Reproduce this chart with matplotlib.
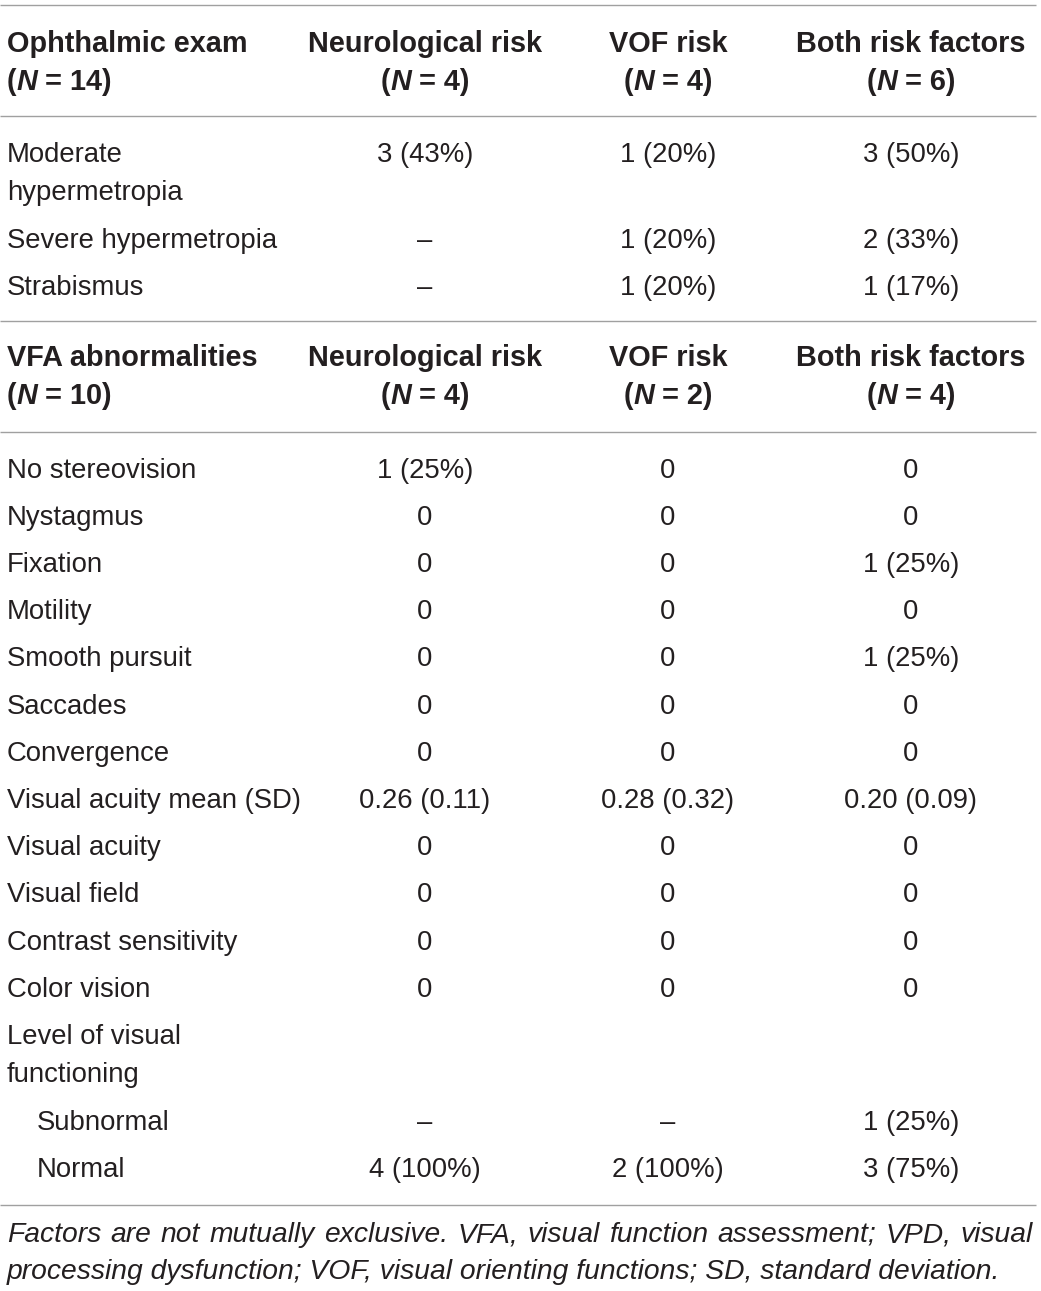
import matplotlib
matplotlib.use("Agg")
import matplotlib.pyplot as plt

# data
group_names = ["Neurological risk", "VOF risk", "Both risk factors"]

exam_title = "Ophthalmic exam"
exam_n = 14
exam_group_n = [4, 4, 6]
exam_rows = ["Moderate\nhypermetropia", "Severe hypermetropia", "Strabismus"]
exam_neuro = ["3 (43%)", "\u2013", "\u2013"]
exam_vof = ["1 (20%)", "1 (20%)", "1 (20%)"]
exam_both = ["3 (50%)", "2 (33%)", "1 (17%)"]

vfa_title = "VFA abnormalities"
vfa_n = 10
vfa_group_n = [4, 2, 4]
vfa_rows = ["No stereovision", "Nystagmus", "Fixation", "Motility", "Smooth pursuit",
            "Saccades", "Convergence", "Visual acuity mean (SD)", "Visual acuity",
            "Visual field", "Contrast sensitivity", "Color vision",
            "Level of visual\nfunctioning", "Subnormal", "Normal"]
vfa_indent = [False] * 13 + [True, True]
vfa_neuro = ["1 (25%)", "0", "0", "0", "0", "0", "0", "0.26 (0.11)", "0", "0", "0", "0",
             "", "\u2013", "4 (100%)"]
vfa_vof = ["0", "0", "0", "0", "0", "0", "0", "0.28 (0.32)", "0", "0", "0", "0",
           "", "\u2013", "2 (100%)"]
vfa_both = ["0", "0", "1 (25%)", "0", "1 (25%)", "0", "0", "0.20 (0.09)", "0", "0", "0", "0",
            "", "1 (25%)", "3 (75%)"]

footnote = ("Factors are not mutually exclusive. VFA, visual function assessment; VPD, visual "
            "processing dysfunction; VOF, visual orienting functions; SD, standard deviation.")

FONT = "Liberation Sans"
FS = 19.8      # body text
FSB = 20.8     # bold header text
FSN = 20.3     # footnote
TXT = "#231f20"
RULE = "#a0a0a0"
COL_X = [425, 668, 911]
LEFT = 7
ROW = 47.2
LINE = 38.5

fig = plt.figure(figsize=(10.41, 12.91), dpi=100)
ax = fig.add_axes([0, 0, 1, 1])
ax.set_xlim(0, 1041)
ax.set_ylim(1291, 0)
ax.axis("off")
fig.canvas.draw()
renderer = fig.canvas.get_renderer()


def draw_runs(x, y, parts, ha="left"):
    # parts: list of (text, weight, style)
    items = []
    total = 0
    for s, w, st in parts:
        t = ax.text(0, y, s, fontsize=FSB, family=FONT, weight=w, style=st,
                    color=TXT, va="baseline", ha="left")
        wd = t.get_window_extent(renderer).width
        items.append((t, wd))
        total += wd
    x0 = x - total / 2 if ha == "center" else x
    for t, wd in items:
        t.set_x(x0)
        x0 += wd


def hline(y):
    ax.plot([0, 1036], [y, y], color=RULE, lw=1.0, solid_capstyle="butt")


def header(y, title, n, group_n):
    draw_runs(LEFT, y, [(title, "bold", "normal")])
    draw_runs(LEFT, y + LINE, [("(", "bold", "normal"), ("N", "bold", "italic"),
                               (" = %d)" % n, "bold", "normal")])
    for cx, name, gn in zip(COL_X, group_names, group_n):
        draw_runs(cx, y, [(name, "bold", "normal")], ha="center")
        draw_runs(cx, y + LINE, [("(", "bold", "normal"), ("N", "bold", "italic"),
                                 (" = %d)" % gn, "bold", "normal")], ha="center")


def body(y, rows, cols, indent=None):
    for i, label in enumerate(rows):
        x = LEFT + (30 if indent and indent[i] else 0)
        for k, part in enumerate(label.split("\n")):
            ax.text(x, y + k * LINE, part, fontsize=FS, family=FONT, color=TXT,
                    va="baseline", ha="left")
        for cx, col in zip(COL_X, cols):
            ax.text(cx, y, col[i], fontsize=FS, family=FONT, color=TXT,
                    va="baseline", ha="center")
        y += ROW + (label.count("\n") * (LINE + 0.5))
    return y


hline(5)
header(52, exam_title, exam_n, exam_group_n)
hline(116)
body(162, exam_rows, [exam_neuro, exam_vof, exam_both])
hline(321)
header(366, vfa_title, vfa_n, vfa_group_n)
hline(432)
body(477.5, vfa_rows, [vfa_neuro, vfa_vof, vfa_both], vfa_indent)
hline(1205)

# justified footnote, first line spread across full width
words = footnote.split(" ")
line1 = words[:words.index("visual", words.index("VPD,")) + 1]
line2 = words[len(line1):]
texts = []
widths = []
for w in line1:
    t = ax.text(0, 1242, w, fontsize=FSN, family=FONT, style="italic", color=TXT,
                va="baseline", ha="left")
    texts.append(t)
    widths.append(t.get_window_extent(renderer).width)
gap = (1033 - LEFT - sum(widths)) / (len(line1) - 1)
x = LEFT
for t, wd in zip(texts, widths):
    t.set_x(x)
    x += wd + gap
ax.text(LEFT, 1279, " ".join(line2), fontsize=FSN, family=FONT, style="italic",
        color=TXT, va="baseline", ha="left")

fig.savefig("out.png", dpi=100)
